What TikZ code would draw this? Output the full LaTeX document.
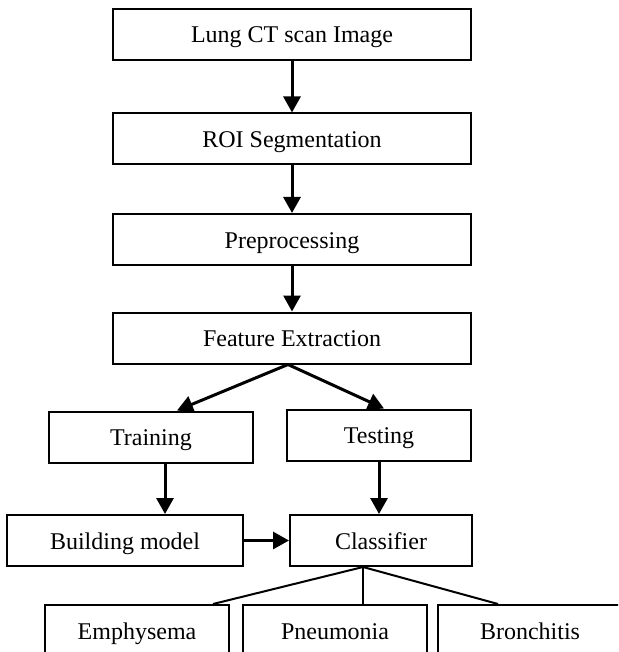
\documentclass[tikz,border=0pt]{standalone}
\usepackage{fontspec}
\setmainfont{Liberation Serif}
\usetikzlibrary{arrows.meta}
\tikzset{
	stepbox/.style={draw, line width=1pt, minimum height=25.5pt, inner sep=0pt, text height=11pt, text depth=2.5pt, font=\fontsize{12}{14}\selectfont},
	flow/.style={line width=1.5pt, -{Triangle[length=8pt,width=8.5pt]}},
	branch/.style={line width=1pt}
}

\begin{document}
\begin{tikzpicture}[x=0.5pt, y=-0.5pt]
		%%%%% START %%%%%
		
		\clip (0, 0) rectangle (618, 652);
		
		\node[stepbox, minimum width=179pt] (lung) at (292, 34.5) {Lung CT scan Image};
		\node[stepbox, minimum width=179pt] (roi) at (292, 139) {ROI Segmentation};
		\node[stepbox, minimum width=179pt] (prep) at (292, 239.5) {Preprocessing};
		\node[stepbox, minimum width=179pt] (feat) at (292, 338) {Feature Extraction};
		
		\node[stepbox, minimum width=102pt] (train) at (151, 437) {Training};
		\node[stepbox, minimum width=92pt] (test) at (379, 435) {Testing};
		
		\node[stepbox, minimum width=118pt] (build) at (125, 540.5) {Building model};
		\node[stepbox, minimum width=91pt] (clf) at (381, 540.5) {Classifier};
		
		\node[stepbox, minimum width=92pt] (emph) at (137, 630.5) {Emphysema};
		\node[stepbox, minimum width=92pt] (pneu) at (335, 630.5) {Pneumonia};
		\node[stepbox, minimum width=92pt] (bron) at (530, 630.5) {Bronchitis};
		
		\draw[flow] (lung) -- (roi);
		\draw[flow] (roi) -- (prep);
		\draw[flow] (prep) -- (feat);
		
		\draw[flow] ([xshift=-2pt]feat.south) -- ([xshift=13pt]train.north);
		\draw[flow] ([xshift=-2pt]feat.south) -- ([xshift=2.5pt]test.north);
		
		\draw[flow] ([xshift=7pt]train.south) -- ([xshift=7pt]train.south |- build.north);
		\draw[flow] (test.south) -- (test.south |- clf.north);
		\draw[flow] (build) -- (clf);
		
		\coordinate (split) at ([xshift=-9pt]clf.south);
		\draw[branch] (split) -- ([xshift=-8.5pt]emph.north east);
		\draw[branch] (split) -- ([xshift=14pt]pneu.north);
		\draw[branch] (split) -- ([xshift=-16pt]bron.north);
		
		%%%%% END %%%%%
	\end{tikzpicture}
\end{document}
